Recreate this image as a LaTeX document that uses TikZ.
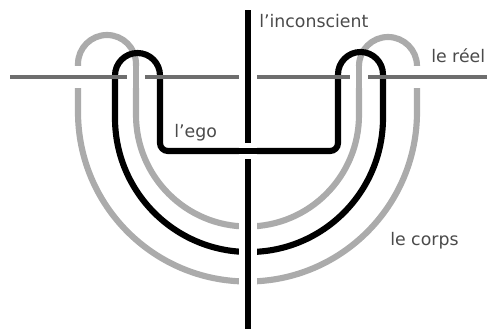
\documentclass[tikz,border=0pt]{standalone}
\usepackage{fontspec}
\setmainfont{DejaVu Sans}
\definecolor{lightg}{HTML}{ABABAB}
\definecolor{darkg}{HTML}{6E6E6E}
\definecolor{txt}{HTML}{4A4A4A}
\begin{document}
\begin{tikzpicture}[x=0.75pt,y=-0.75pt,
  corps/.style={draw=lightg,line width=4.6pt},
  ego/.style={draw=black,line width=4.6pt},
  reel/.style={draw=darkg,line width=3.4pt},
  incs/.style={draw=black,line width=4.2pt},
  gapw/.style={draw=white,line width=#1},
  lbl/.style={inner sep=0pt,anchor=base west,text=txt,font=\fontsize{13}{15}\selectfont}]
\useasboundingbox (0,0) rectangle (487,329);
% named coordinates
\coordinate (rL) at (10,77);
\coordinate (rR) at (487,77);
\coordinate (iT) at (248,10);
\coordinate (iB) at (248,329);
% le corps (gray ring)
\path[corps] (78,64) arc[start angle=180,end angle=360,radius=29]
  -- (136,115) arc[start angle=180,end angle=0,radius=111.5]
  -- (359,66) arc[start angle=180,end angle=360,radius=29]
  -- (417,112) arc[start angle=0,end angle=180,radius=169.5] -- cycle;
% le reel over outer gray arms (with gap)
\path[gapw=16.5pt] (rL) -- (rR);
\path[reel] (rL) -- (rR);
% gray inner arms over le reel (with gap)
\path[gapw=13.5pt] (136,68) -- (136,86) (359,68) -- (359,86);
\path[corps] (136,62) -- (136,92) (359,62) -- (359,92);
% l'ego (black ring)
\path[ego] (115,75.5) arc[start angle=180,end angle=360,radius=22.5]
  -- (160,143) arc[start angle=180,end angle=90,radius=8]
  -- (330,151) arc[start angle=90,end angle=0,radius=8]
  -- (338,74.5) arc[start angle=180,end angle=360,radius=22.5]
  -- (383,118) arc[start angle=0,end angle=180,radius=134] -- cycle;
% le reel over black arms
\path[reel] (108,77) -- (122,77) (153,77) -- (167,77) (331,77) -- (345,77) (376,77) -- (390,77);
% l'inconscient over everything (with gap)
\path[gapw=13pt] (iT) -- (iB);
\path[incs] (iT) -- (iB);
% black horizontal over the vertical
\path[gapw=11.5pt] (240,151) -- (256,151);
\path[ego] (230,151) -- (266,151);
% labels
\node[lbl] (tinc) at (259,27) {l'inconscient};
\node[lbl] (treel) at (431,62) {le réel};
\node[lbl] (tego) at (174,137) {l'ego};
\node[lbl] (tcorps) at (390,245) {le corps};
\end{tikzpicture}
\end{document}
